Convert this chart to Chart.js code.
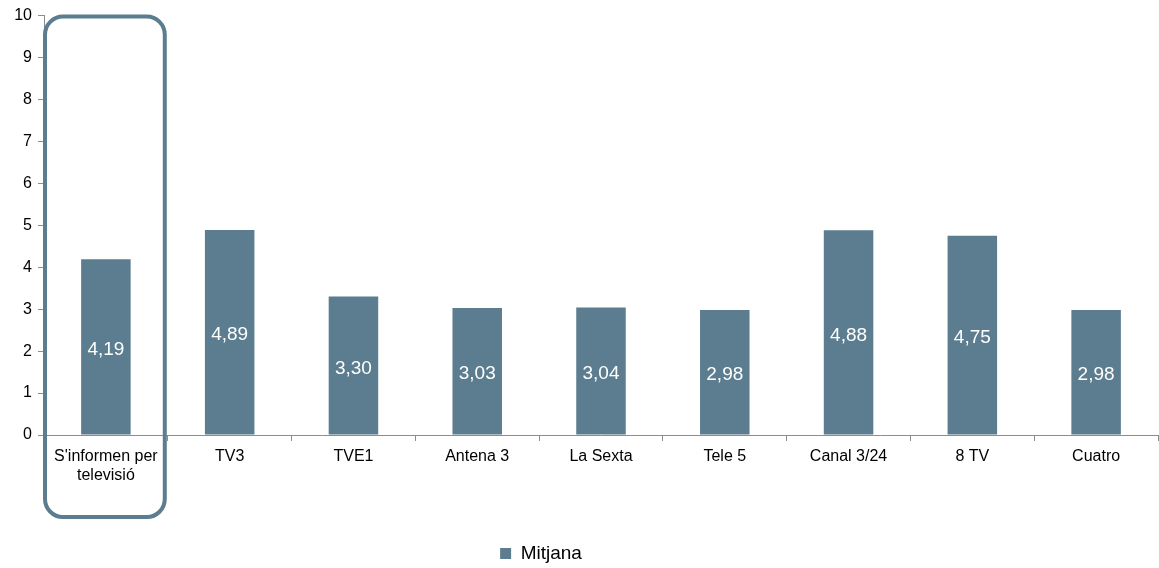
<!DOCTYPE html>
<html>
<head>
<meta charset="utf-8">
<script src="https://cdn.jsdelivr.net/npm/chart.js@4/dist/chart.umd.min.js"></script>
<style>
  html, body { margin: 0; padding: 0; background: #fff; }
  #wrap { width: 1159px; height: 568px; position: relative; }
</style>
</head>
<body>
<div id="wrap"><canvas id="chart"></canvas></div>
<script>
// Data
const categories = [["S'informen per", "televisió"], "TV3", "TVE1", "Antena 3", "La Sexta", "Tele 5", "Canal 3/24", "8 TV", "Cuatro"];
const mitjana = [4.19, 4.89, 3.30, 3.03, 3.04, 2.98, 4.88, 4.75, 2.98];
const yTicks = [0, 1, 2, 3, 4, 5, 6, 7, 8, 9, 10];

const barColor = '#5b7d8f';
const axisColor = '#8c8c8c';
const fontFamily = '"Liberation Sans", Arial, sans-serif';

// value labels in the middle of each bar
const valueLabels = {
    id: 'valueLabels',
    afterDatasetsDraw(chart) {
        const ctx = chart.ctx;
        const meta = chart.getDatasetMeta(0);
        ctx.save();
        ctx.fillStyle = '#ffffff';
        ctx.font = '19px ' + fontFamily;
        ctx.textAlign = 'center';
        ctx.textBaseline = 'middle';
        meta.data.forEach((bar, i) => {
            const txt = mitjana[i].toFixed(2).replace('.', ',');
            ctx.fillText(txt, bar.x, (bar.y + bar.base) / 2 + 3);
        });
        ctx.restore();
    }
};

// rounded frame around the first category
const highlightBox = {
    id: 'highlightBox',
    afterDraw(chart) {
        const x = chart.scales.x;
        const y = chart.scales.y;
        const half = (x.getPixelForValue(1) - x.getPixelForValue(0)) / 2;
        const left = x.getPixelForValue(0) - half + 1;
        const right = x.getPixelForValue(0) + half - 3;
        const top = y.getPixelForValue(10) + 1;
        const bottom = y.getPixelForValue(0) + 82;
        const ctx = chart.ctx;
        ctx.save();
        ctx.strokeStyle = barColor;
        ctx.lineWidth = 4;
        ctx.beginPath();
        ctx.roundRect(left, top, right - left, bottom - top, 18);
        ctx.stroke();
        ctx.restore();
    }
};

// legend sits a bit left of the canvas centre and lower in the original
const legendShift = {
    id: 'legendShift',
    afterLayout(chart) {
        chart.legend.left -= 38;
        chart.legend.right -= 38;
        chart.legend.top += 5;
        chart.legend.bottom += 5;
    }
};

new Chart(document.getElementById('chart'), {
    type: 'bar',
    data: {
        labels: categories,
        datasets: [{
            label: 'Mitjana',
            data: mitjana,
            backgroundColor: barColor,
            borderWidth: 0,
            barPercentage: 0.4,
            categoryPercentage: 1.0
        }]
    },
    options: {
        responsive: true,
        maintainAspectRatio: false,
        animation: false,
        layout: { padding: { top: 8, right: 1, left: 0, bottom: 0 } },
        scales: {
            x: {
                grid: {
                    offset: true,
                    drawOnChartArea: false,
                    drawTicks: true,
                    tickLength: 6,
                    color: axisColor
                },
                border: { color: axisColor, width: 1 },
                ticks: {
                    color: '#000',
                    font: { family: fontFamily, size: 16 },
                    maxRotation: 0,
                    autoSkip: false,
                    padding: 6
                },
                afterFit(scale) { scale.height = 94; }
            },
            y: {
                min: 0,
                max: 10,
                afterBuildTicks(scale) { scale.ticks = yTicks.map(v => ({ value: v })); },
                grid: {
                    drawOnChartArea: false,
                    drawTicks: true,
                    tickLength: 6,
                    color: axisColor
                },
                border: { color: axisColor, width: 1 },
                ticks: {
                    color: '#000',
                    font: { family: fontFamily, size: 16 },
                    padding: 6
                },
                afterFit(scale) { scale.width = 44; }
            }
        },
        plugins: {
            legend: {
                position: 'bottom',
                labels: {
                    color: '#000',
                    font: { family: fontFamily, size: 19 },
                    boxWidth: 11,
                    boxHeight: 11,
                    padding: 10
                }
            },
            tooltip: { enabled: false }
        }
    },
    plugins: [valueLabels, highlightBox, legendShift]
});
</script>
</body>
</html>
